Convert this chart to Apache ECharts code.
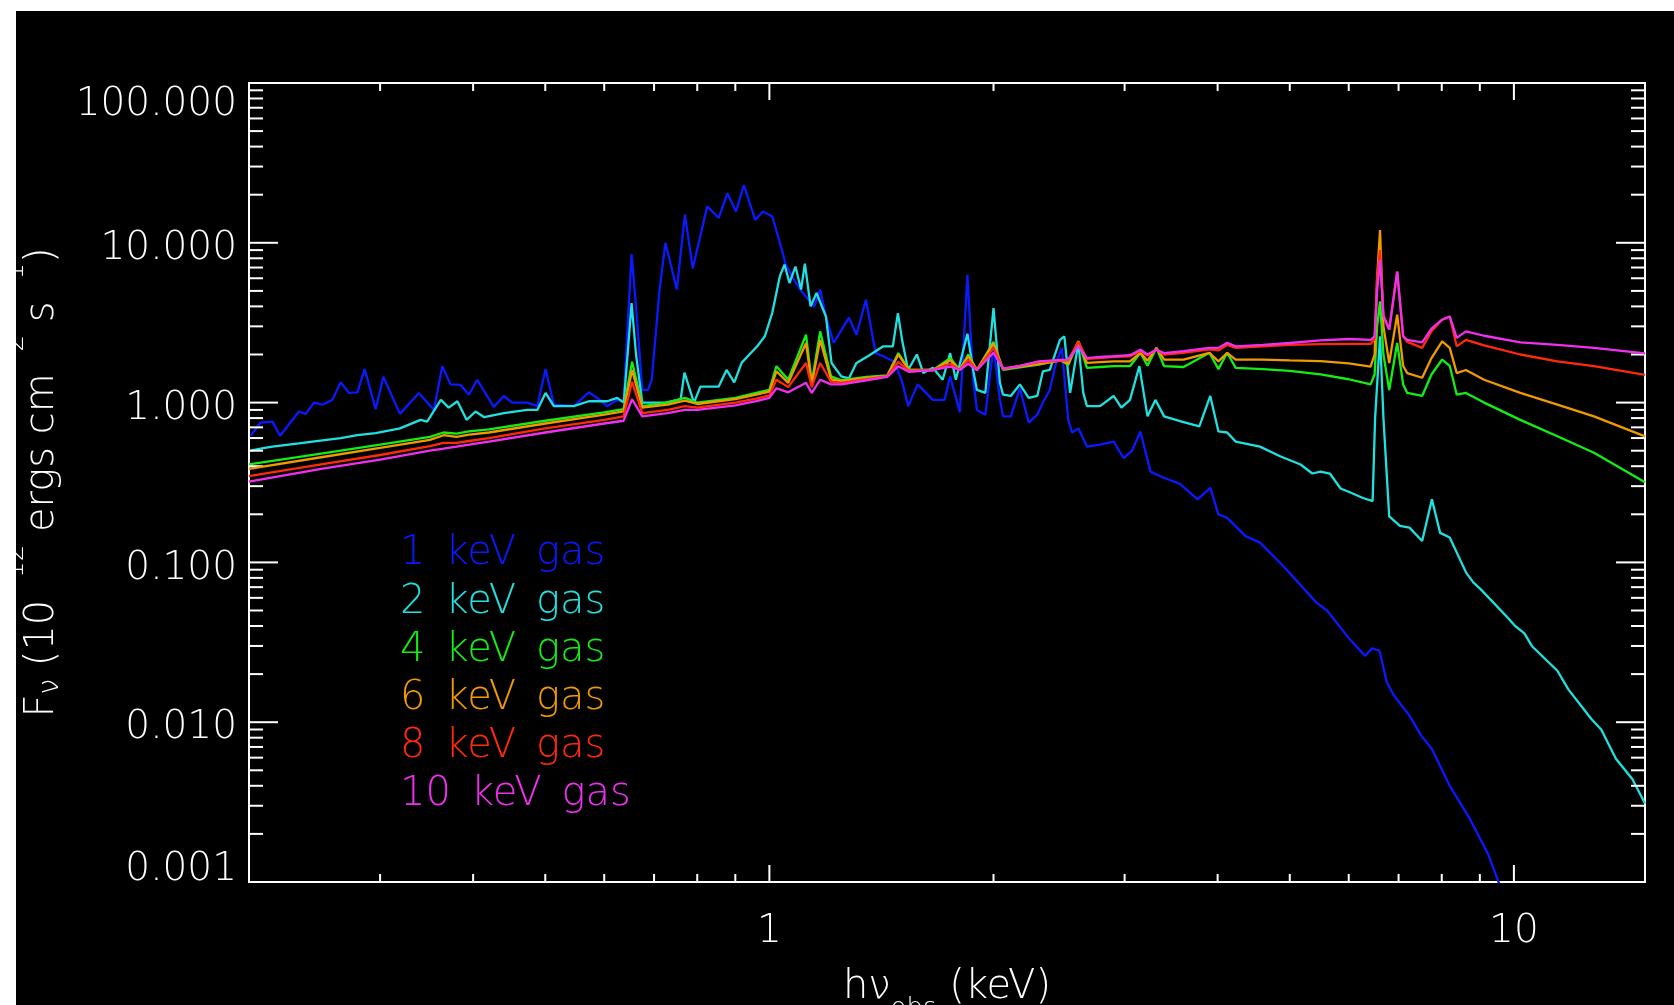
<!DOCTYPE html>
<html><head><meta charset="utf-8">
<script src="https://cdn.jsdelivr.net/npm/echarts@6/dist/echarts.min.js"></script>
<style>
html,body{margin:0;padding:0;background:#fff;width:1674px;height:1005px;overflow:hidden}
#chart{position:absolute;left:16px;top:11px;width:1658px;height:994px;background:#000}
</style>
</head><body><div id="chart"></div>
<script>
const seriesNames = ['1 keV gas', '2 keV gas', '4 keV gas', '6 keV gas', '8 keV gas', '10 keV gas'];
const seriesColors = ['#0a1aff', '#20e0e0', '#14ee14', '#f09a00', '#ff2a0a', '#f030f0'];

// 1 keV gas
const energy1 = [
0.201,0.2073,0.215,0.2202,0.2334,0.2383,0.2445,0.251,0.2588,0.2656,
0.2724,0.2796,0.286,0.2959,0.303,0.319,0.3382,0.3543,0.3636,0.3731,
0.3848,0.3948,0.4051,0.4264,0.4398,0.4515,0.473,0.4878,0.5005,0.5135,
0.5461,0.5721,0.5902,0.6055,0.6246,0.6374,0.645,0.653,0.662,0.675,
0.687,0.695,0.712,0.725,0.751,0.770,0.789,0.825,0.855,0.878,
0.902,0.924,0.957,0.980,1.009,1.033,1.052,1.083,1.109,1.149,
1.17,1.191,1.22,1.279,1.309,1.348,1.389,1.422,1.473,1.509,
1.536,1.582,1.658,1.719,1.749,1.802,1.845,1.878,1.90,1.95,
2.0,2.04,2.06,2.11,2.17,2.23,2.29,2.33,2.38,2.42,
2.47,2.52,2.55,2.60,2.67,2.78,2.90,2.99,3.07,3.15,
3.25,3.38,3.56,3.76,3.91,4.01,4.12,4.36,4.56,4.90,
5.43,5.61,6.02,6.31,6.45,6.6,6.75,6.9,7.24,7.5,
7.76,8.2,8.72,9.23,9.53,9.8];
const flux1 = [
0.62,0.75,0.76,0.62,0.88,0.85,1.0,0.97,1.04,1.34,
1.15,1.16,1.62,0.91,1.45,0.85,1.15,0.9,1.69,1.3,
1.29,1.12,1.39,0.94,1.1,1.0,1.0,0.95,1.62,0.97,
0.95,1.16,1.05,0.95,1.04,1.02,3.0,8.5,4.0,1.2,
1.2,1.39,5.1,10.0,5.1,15,6.9,16.9,14.3,20.4,
15.7,23,13.9,15.7,14.6,10,7.3,5.7,4.85,4.0,
5.1,3.46,2.36,3.4,2.66,4.4,2.04,1.95,1.8,1.33,
0.95,1.3,1.04,1.04,1.46,0.87,6.3,1.4,0.9,0.84,
2.25,1.04,0.82,0.82,1.23,0.75,0.84,1.0,1.2,1.69,
2.2,0.78,0.65,0.69,0.53,0.546,0.57,0.45,0.50,0.66,
0.37,0.34,0.31,0.248,0.293,0.20,0.19,0.146,0.133,0.095,
0.056,0.05,0.033,0.026,0.029,0.028,0.0178,0.0147,0.011,0.0083,
0.0068,0.004,0.0025,0.0015,0.00101,0.0007];

// 2 keV gas
const energy2 = [
0.201,0.2073,0.215,0.2334,0.251,0.2656,0.2796,0.2959,0.319,0.340,
0.347,0.362,0.371,0.381,0.392,0.403,0.414,0.44,0.473,0.4878,
0.5005,0.5135,0.5461,0.5721,0.6055,0.6246,0.6374,0.645,0.653,0.662,
0.675,0.725,0.760,0.769,0.792,0.808,0.855,0.876,0.897,0.918,
0.963,0.986,1.009,1.033,1.048,1.064,1.084,1.103,1.116,1.136,
1.157,1.191,1.212,1.249,1.279,1.309,1.356,1.422,1.465,1.488,
1.509,1.536,1.578,1.610,1.658,1.709,1.749,1.780,1.845,1.878,
1.90,1.95,2.0,2.04,2.06,2.11,2.17,2.23,2.29,2.33,
2.38,2.456,2.49,2.535,2.60,2.64,2.67,2.78,2.90,2.97,
3.05,3.14,3.22,3.30,3.39,3.58,3.78,3.91,4.01,4.12,
4.23,4.56,4.86,5.17,5.36,5.50,5.66,5.85,6.02,6.27,
6.46,6.51,6.61,6.68,6.80,7.03,7.24,7.53,7.76,7.96,
8.20,8.63,8.82,9.02,9.77,10.04,10.33,10.57,11.44,11.84,
12.7,13.1,13.71,14.43,15];
const flux2 = [
0.50,0.515,0.53,0.555,0.58,0.60,0.625,0.645,0.69,0.78,
0.76,1.04,0.93,1.02,0.78,0.88,0.81,0.86,0.9,0.9,
1.15,0.95,0.95,1.02,1.02,1.07,1.0,2.0,4.2,2.0,
1.0,1.0,1.05,1.54,1.0,1.26,1.26,1.6,1.34,1.78,
2.25,2.6,3.65,6.2,7.3,5.6,7.1,5.1,7.4,4.0,
4.85,3.46,1.77,1.46,1.42,1.77,1.95,2.25,2.25,3.63,
2.4,1.6,2.0,1.53,1.65,1.39,2.04,1.39,2.7,1.6,
1.2,1.15,3.9,1.33,1.12,1.1,1.3,1.07,1.1,1.57,
1.6,2.47,2.6,1.15,2.36,1.15,0.95,0.95,1.1,0.93,
1.04,1.69,0.82,1.04,0.82,0.76,0.71,1.1,0.66,0.65,
0.57,0.53,0.46,0.41,0.36,0.37,0.36,0.29,0.275,0.253,
0.242,0.8,2.6,0.8,0.194,0.169,0.165,0.136,0.248,0.153,
0.143,0.086,0.075,0.068,0.046,0.040,0.036,0.030,0.021,0.016,
0.0105,0.009,0.0059,0.0044,0.0031];

// 4, 6, 8, 10 keV gas (shared energy grid)
const energyHot = [
0.2,0.25,0.3,0.35,0.365,0.38,0.395,0.42,0.5,0.6,
0.637,0.654,0.675,0.73,0.77,0.8,0.9,0.96,1.0,1.022,
1.06,1.12,1.14,1.17,1.21,1.25,1.35,1.44,1.49,1.54,
1.66,1.75,1.8,1.85,1.9,2.0,2.06,2.17,2.3,2.46,
2.52,2.6,2.67,2.78,2.9,3.05,3.15,3.22,3.31,3.39,
3.6,3.9,4.01,4.12,4.23,4.6,5.0,5.5,6.0,6.42,
6.5,6.55,6.61,6.68,6.8,6.97,7.1,7.19,7.53,7.75,
8.01,8.2,8.38,8.62,9.12,10.2,11.44,12.81,15];
const flux4 = [
0.41,0.48,0.545,0.61,0.65,0.64,0.66,0.68,0.77,0.87,
0.91,1.8,0.95,1.0,1.07,1.0,1.07,1.15,1.2,1.69,
1.39,2.66,1.33,2.79,1.46,1.38,1.45,1.48,2.04,1.6,
1.6,1.9,1.6,2.0,1.6,2.4,1.6,1.66,1.73,1.85,
1.72,2.42,1.65,1.67,1.69,1.69,2.05,1.7,2.2,1.69,
1.67,2.05,1.62,2.05,1.65,1.62,1.58,1.5,1.4,1.3,
1.5,3.0,4.3,2.0,1.2,2.36,1.3,1.15,1.1,1.5,
1.86,1.7,1.12,1.15,1.0,0.78,0.616,0.485,0.317];
const flux6 = [
0.385,0.455,0.52,0.585,0.625,0.61,0.63,0.65,0.74,0.84,
0.88,1.6,0.93,0.97,1.03,0.98,1.05,1.12,1.17,1.57,
1.33,2.36,1.3,2.47,1.4,1.36,1.43,1.47,2.0,1.6,
1.6,1.85,1.6,1.95,1.6,2.35,1.62,1.68,1.74,1.83,
1.75,2.42,1.77,1.79,1.81,1.81,2.05,1.83,2.2,1.86,
1.86,2.05,1.81,2.05,1.86,1.86,1.84,1.82,1.76,1.68,
2.0,6.0,12,3.0,1.77,3.55,1.7,1.53,1.43,1.9,
2.42,2.2,1.53,1.6,1.39,1.15,0.97,0.82,0.615];
const flux8 = [
0.347,0.41,0.47,0.535,0.56,0.56,0.575,0.6,0.69,0.78,
0.82,1.35,0.86,0.9,0.95,0.93,1.0,1.06,1.11,1.39,
1.25,1.77,1.25,1.77,1.35,1.33,1.4,1.46,1.8,1.58,
1.6,1.75,1.6,1.85,1.6,2.2,1.63,1.7,1.8,1.83,
1.84,2.4,1.88,1.9,1.93,1.95,2.1,1.97,2.15,2.0,
2.05,2.15,2.12,2.3,2.2,2.25,2.3,2.32,2.33,2.33,
2.5,6.0,9.0,3.5,2.86,6.6,2.6,2.4,2.2,2.8,
3.3,3.46,2.25,2.47,2.28,2.0,1.81,1.69,1.49];
const flux10 = [
0.32,0.385,0.44,0.5,0.515,0.53,0.545,0.57,0.65,0.74,
0.77,1.05,0.82,0.86,0.9,0.9,0.96,1.02,1.07,1.23,
1.16,1.33,1.15,1.39,1.3,1.3,1.38,1.45,1.69,1.56,
1.6,1.68,1.6,1.75,1.6,2.05,1.63,1.7,1.81,1.85,
1.86,2.25,1.9,1.93,1.95,1.98,2.14,2.0,2.14,2.04,
2.1,2.2,2.2,2.37,2.25,2.3,2.36,2.45,2.5,2.47,
2.6,5.0,7.8,3.5,2.86,6.6,2.6,2.47,2.38,2.9,
3.3,3.46,2.54,2.79,2.62,2.38,2.3,2.2,2.03];

// axis ticks
const xMajorTicks = [1, 10];
const xMinorTicks = [0.3,0.4,0.5,0.6,0.7,0.8,0.9,2,3,4,5,6,7,8,9];
const yMajorTicks = [0.001,0.01,0.1,1,10,100];
const yMinorTicks = [
0.002,0.003,0.004,0.005,0.006,0.007,0.008,0.009,
0.02,0.03,0.04,0.05,0.06,0.07,0.08,0.09,
0.2,0.3,0.4,0.5,0.6,0.7,0.8,0.9,
2,3,4,5,6,7,8,9,
20,30,40,50,60,70,80,90];

const FONT = 'DejaVu Sans';
const FW = 200;
const pairs = (xs, ys) => xs.map((x, i) => [x, ys[i]]);
const lineData = [
  pairs(energy1, flux1), pairs(energy2, flux2), pairs(energyHot, flux4),
  pairs(energyHot, flux6), pairs(energyHot, flux8), pairs(energyHot, flux10)
];

function tickSeries(values, axis, len) {
  return {
    type: 'custom', coordinateSystem: 'cartesian2d', silent: true, clip: false, z: 5,
    data: values.map(v => axis === 'x' ? [v, 1] : [1, v]),
    renderItem: function (params, api) {
      const cs = params.coordSys;
      const st = () => ({ stroke: '#ffffff', lineWidth: 2 });
      if (axis === 'x') {
        const px = api.coord([api.value(0), 1])[0];
        return { type: 'group', children: [
          { type: 'line', shape: { x1: px, y1: cs.y + cs.height, x2: px, y2: cs.y + cs.height - len }, style: st() },
          { type: 'line', shape: { x1: px, y1: cs.y, x2: px, y2: cs.y + len }, style: st() }
        ]};
      }
      const py = api.coord([1, api.value(1)])[1];
      return { type: 'group', children: [
        { type: 'line', shape: { x1: cs.x, y1: py, x2: cs.x + len, y2: py }, style: st() },
        { type: 'line', shape: { x1: cs.x + cs.width, y1: py, x2: cs.x + cs.width - len, y2: py }, style: st() }
      ]};
    }
  };
}

const chart = echarts.init(document.getElementById('chart'), null, { renderer: 'canvas' });
const series = seriesNames.map((name, i) => ({
  name: name, type: 'line', data: lineData[i], showSymbol: false, symbol: 'none',
  clip: true, silent: true, animation: false,
  lineStyle: { color: seriesColors[i], width: 2.3 }, itemStyle: { color: seriesColors[i] }, z: 2 + i
}));
series.push(tickSeries(xMinorTicks, 'x', 8));
series.push(tickSeries(xMajorTicks, 'x', 17));
series.push(tickSeries(yMinorTicks, 'y', 14));
series.push(tickSeries(yMajorTicks, 'y', 29));

const txt = (size, extra) => Object.assign({ fontFamily: FONT, fontWeight: FW, fontSize: size, color: '#ffffff' }, extra || {});

chart.setOption({
  backgroundColor: '#000000',
  animation: false,
  grid: { left: 233, right: 29, top: 72, bottom: 123, show: true, borderColor: '#ffffff', borderWidth: 2,
          backgroundColor: 'transparent', containLabel: false, outerBoundsMode: 'none' },
  legend: {
    orient: 'vertical', left: 379, top: 519, padding: 0, itemWidth: 0, itemHeight: 0, itemGap: 0.2,
    icon: 'none', selectedMode: false,
    formatter: function (name) { return name.split(' ').join('\u2002'); },
    textStyle: txt(40, { lineHeight: 48 }),
    data: seriesNames.map((n, i) => ({ name: n, icon: 'none', textStyle: { color: seriesColors[i] } }))
  },
  xAxis: {
    type: 'log', logBase: 10, min: 0.2, max: 15,
    axisLine: { show: false }, axisTick: { show: false }, splitLine: { show: false }, minorTick: { show: false },
    axisLabel: Object.assign(txt(39), {
      margin: 30, showMinLabel: false, showMaxLabel: false,
      formatter: function (v) {
        const l = Math.log10(v);
        return Math.abs(l - Math.round(l)) < 1e-6 ? String(Math.round(v)) : '';
      }
    }),
    name: '{a|h\u03BD}{sub|obs}{a| (keV)}', nameLocation: 'middle', nameGap: 86,
    nameTextStyle: Object.assign(txt(40), {
      rich: {
        a: txt(40, { lineHeight: 40, verticalAlign: 'top' }),
        sub: txt(26, { lineHeight: 26, verticalAlign: 'top', padding: [28, 0, 0, 0] })
      }
    })
  },
  yAxis: {
    type: 'log', logBase: 10, min: 0.001, max: 100,
    axisLine: { show: false }, axisTick: { show: false }, splitLine: { show: false }, minorTick: { show: false },
    axisLabel: Object.assign(txt(39), {
      margin: 12,
      formatter: function (v) {
        const l = Math.round(Math.log10(v));
        const s = Math.pow(10, l).toFixed(3);
        if (l >= 2) return '{top|' + s + '}';
        if (l <= -3) return '{bot|' + s + '}';
        return '{mid|' + s + '}';
      },
      rich: {
        top: txt(39, { padding: [43, 0, 0, 0] }),
        mid: txt(39, { padding: [12, 0, 0, 0] }),
        bot: txt(39, { padding: [0, 0, 24, 0] })
      }
    }),
    name: '{a|F}{sub|\u03BD}{a| (10}{sup|\u221212}{a| ergs cm}{sup|\u22122}{a| s}{sup|\u22121}{a|)}',
    nameLocation: 'middle', nameGap: 199, nameRotate: 90,
    nameTextStyle: Object.assign(txt(40), {
      rich: {
        a: txt(40, { lineHeight: 40, verticalAlign: 'top', padding: [20, 0, 0, 0] }),
        sub: txt(28, { lineHeight: 28, verticalAlign: 'top', padding: [34, 0, 0, 0] }),
        sup: txt(26, { lineHeight: 26, verticalAlign: 'top', padding: [0, 0, 0, 0] })
      }
    })
  },
  series: series
});
</script>
</body></html>
